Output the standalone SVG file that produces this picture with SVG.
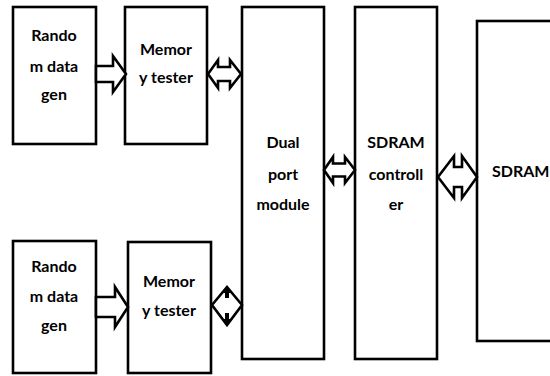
<svg xmlns="http://www.w3.org/2000/svg" width="550" height="376" viewBox="0 0 550 376">
  <defs>
    <style>
      .box { fill: #fff; stroke: #000; stroke-width: 2.6; }
      .arw { fill: #fff; stroke: #000; stroke-width: 2.6; stroke-linejoin: miter; }
      .mark { fill: #000; }
      .lbl { font-family: Lato, "Liberation Sans", Arial, sans-serif; font-weight: 700; font-size: 16px; fill: #000; text-anchor: middle; }
    </style>
  </defs>
  <rect width="550" height="376" fill="#fff"/>

  <g id="rand-gen-1">
    <rect class="box" x="13" y="7" width="83" height="137"/>
    <text class="lbl" x="54" y="41">Rando</text>
    <text class="lbl" x="54" y="72">m data</text>
    <text class="lbl" x="54" y="100">gen</text>
  </g>

  <g id="mem-tester-1">
    <rect class="box" x="125" y="7" width="82" height="137"/>
    <text class="lbl" x="166" y="55">Memor</text>
    <text class="lbl" x="166" y="83">y tester</text>
  </g>

  <g id="rand-gen-2">
    <rect class="box" x="13" y="241" width="83" height="132"/>
    <text class="lbl" x="54" y="272">Rando</text>
    <text class="lbl" x="54" y="302">m data</text>
    <text class="lbl" x="54" y="331">gen</text>
  </g>

  <g id="mem-tester-2">
    <rect class="box" x="128" y="242" width="83" height="131"/>
    <text class="lbl" x="169" y="287">Memor</text>
    <text class="lbl" x="169" y="316">y tester</text>
  </g>

  <g id="dual-port">
    <rect class="box" x="242" y="7" width="82" height="352"/>
    <text class="lbl" x="283" y="148">Dual</text>
    <text class="lbl" x="283" y="180">port</text>
    <text class="lbl" x="283" y="210">module</text>
  </g>

  <g id="sdram-ctrl">
    <rect class="box" x="355" y="7" width="82" height="352"/>
    <text class="lbl" x="396" y="148">SDRAM</text>
    <text class="lbl" x="396" y="180">controll</text>
    <text class="lbl" x="396" y="210">er</text>
  </g>

  <g id="sdram">
    <rect class="box" x="477" y="21" width="90" height="320"/>
    <text class="lbl" x="492" y="177" style="text-anchor:start">SDRAM</text>
  </g>

  <g id="connectors">
    <!-- data generator to tester, one-way -->
    <polygon class="arw" points="96,66 113,66 113,56 126,74 113,92 113,82 96,82"/>
    <polygon class="arw" points="96,297 115,297 115,287 128,307 115,327 115,317 96,317"/>
    <!-- tester to dual port, two-way -->
    <polygon class="arw" points="208,74 218,60 218,67 230,67 230,60 241,74 230,88 230,81 218,81 218,88"/>
    <polygon class="arw" points="212,305 227,287 242,305 227,325"/>
    <polygon class="mark" points="227,288 231,293 229,293 229,298 225,298 225,293 223,293"/>
    <polygon class="mark" points="227,324 231,319 229,319 229,313 225,313 225,319 223,319"/>
    <!-- dual port to controller -->
    <polygon class="arw" points="324,170 333,157 333,163.5 345,163.5 345,157 355,170 345,183 345,176.5 333,176.5 333,183"/>
    <!-- controller to SDRAM -->
    <polygon class="arw" points="438,177 454,156 454,167 462,167 462,156 477,177 462,198 462,187 454,187 454,198"/>
  </g>
</svg>
